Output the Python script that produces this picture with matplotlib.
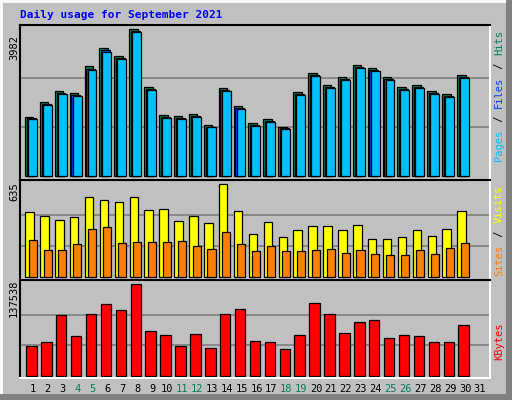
import matplotlib
matplotlib.use("Agg")
import matplotlib.pyplot as plt
from matplotlib.lines import Line2D

days = list(range(1, 32))
day_labels = [str(d) for d in days]
weekend_days = [4, 5, 11, 12, 18, 19, 25, 26]
hits = [1598, 2005, 2303, 2248, 2980, 3468, 3251, 3982, 2411, 1652, 1625, 1680, 1382, 2384, 1896,
        1436, 1544, 1327, 2276, 2790, 2465, 2682, 3007, 2926, 2682, 2411, 2465, 2303, 2221, 2736]
files = [1560, 1950, 2250, 2200, 2900, 3400, 3200, 3930, 2360, 1600, 1580, 1630, 1340, 2330, 1840,
         1390, 1500, 1290, 2220, 2740, 2410, 2630, 2950, 2870, 2630, 2360, 2410, 2250, 2170, 2680]
pages = [1540, 1920, 2220, 2170, 2870, 3370, 3170, 3900, 2330, 1570, 1550, 1600, 1320, 2300, 1810,
         1360, 1470, 1270, 2190, 2700, 2380, 2600, 2920, 2840, 2600, 2330, 2380, 2220, 2140, 2650]
visits = [442, 415, 387, 408, 546, 525, 511, 546, 456, 463, 380, 415, 367, 635, 449,
          291, 374, 270, 319, 346, 346, 319, 353, 257, 257, 270, 319, 277, 325, 449]
sites = [250, 181, 181, 222, 325, 339, 229, 236, 236, 236, 243, 209, 188, 305, 222,
         174, 209, 174, 174, 181, 188, 160, 181, 154, 147, 147, 181, 154, 195, 229]
kbytes = [44176, 50200, 90862, 59236, 92368, 107428, 98392, 137538, 66766, 60742, 44176, 62248,
          41164, 92368, 99898, 51706, 50200, 39658, 60742, 108934, 92368, 63754, 80320, 83332,
          56224, 60742, 59236, 50200, 50200, 75802]

W, H = 512, 400
fig = plt.figure(figsize=(W/100, H/100), dpi=100, facecolor="#C0C0C0")
MONO = "DejaVu Sans Mono"

def ax_px(x0, y0, x1, y1):
    return fig.add_axes([x0/W, 1-y1/H, (x1-x0)/W, (y1-y0)/H])

# outer 3D frame
fl = fig.add_axes([0, 0, 1, 1]); fl.set_xlim(0, W); fl.set_ylim(H, 0); fl.axis("off")
fl.add_line(Line2D([1, W-6], [1, 1], color="white", lw=2))
fl.add_line(Line2D([1, 1], [1, H-6], color="white", lw=2))
fl.add_line(Line2D([W-3, W-3], [3, H-1], color="#808080", lw=5))
fl.add_line(Line2D([3, W-1], [H-3, H-3], color="#808080", lw=5))

xl = (0.13, 31.67)
def style(ax, ylim, top):
    ax.set_facecolor("#C0C0C0")
    ax.set_xlim(*xl); ax.set_ylim(*ylim)
    ax.set_xticks([]); ax.set_yticks([])
    for g in (top/3, 2*top/3):
        ax.axhline(g, color="#808080", lw=1.2, zorder=0)
    ax.spines["top"].set_color("black"); ax.spines["left"].set_color("black")
    ax.spines["bottom"].set_color("white"); ax.spines["right"].set_color("white")
    for s in ax.spines.values(): s.set_linewidth(1.5)

d = days[:len(hits)]
ec = dict(edgecolor="black", linewidth=0.9, align="edge")
a1 = ax_px(20, 25, 490, 180)
style(a1, (-108, 4090), hits[7])
a1.bar([x-0.54 for x in d], hits, width=0.57, color="#00805c", **ec)
a1.bar([x-0.42 for x in d], files, width=0.6, color="#0040ff", **ec)
a1.bar([x-0.34 for x in d], pages, width=0.6, color="#00c0ff", **ec)

a2 = ax_px(20, 180, 490, 280)
style(a2, (-23, 665), visits[13])
a2.bar([x-0.52 for x in d], visits, width=0.57, color="#ffff00", **ec)
a2.bar([x-0.29 for x in d], sites, width=0.54, color="#ff8000", **ec)

a3 = ax_px(20, 280, 490, 378)
style(a3, (-3460, 144010), kbytes[7])
a3.bar([x-0.45 for x in d], kbytes, width=0.7, color="#ff0000", **ec)

fs = 7.5
fig.text(20/W, 1-15/H, "Daily usage for September 2021", family=MONO, weight="bold",
         color="#0000ff", fontsize=8, va="center", ha="left")
for txt, y in (("3982", 47), ("635", 192), ("137538", 298)):
    fig.text(14/W, 1-y/H, txt, rotation=90, family=MONO, fontsize=fs, ha="center", va="center")

def vlabel(parts, ycenter):
    # parts bottom-to-top
    total = sum(len(p) for p, _ in parts)
    ch = 6.6
    y = ycenter + total*ch/2
    for p, c in parts:
        fig.text(499/W, 1-y/H, p, rotation=90, family=MONO, fontsize=fs, color=c,
                 ha="center", va="bottom")
        y -= len(p)*ch
vlabel([("Pages", "#00c0ff"), (" / ", "black"), ("Files", "#0040ff"), (" / ", "black"),
        ("Hits", "#00805c")], 95)
vlabel([("Sites", "#ff8000"), (" / ", "black"), ("Visits", "#ffff00")], 230)
vlabel([("KBytes", "#ff0000")], 340)

for dd, lab in zip(days, day_labels):
    xp = 20 + (dd - xl[0]) / (xl[1]-xl[0]) * 470
    fig.text(xp/W, 1-389/H, lab, family=MONO, fontsize=fs, ha="center", va="center",
             color="#00805c" if dd in weekend_days else "black")

fig.savefig("out.png", dpi=100, facecolor=fig.get_facecolor())
